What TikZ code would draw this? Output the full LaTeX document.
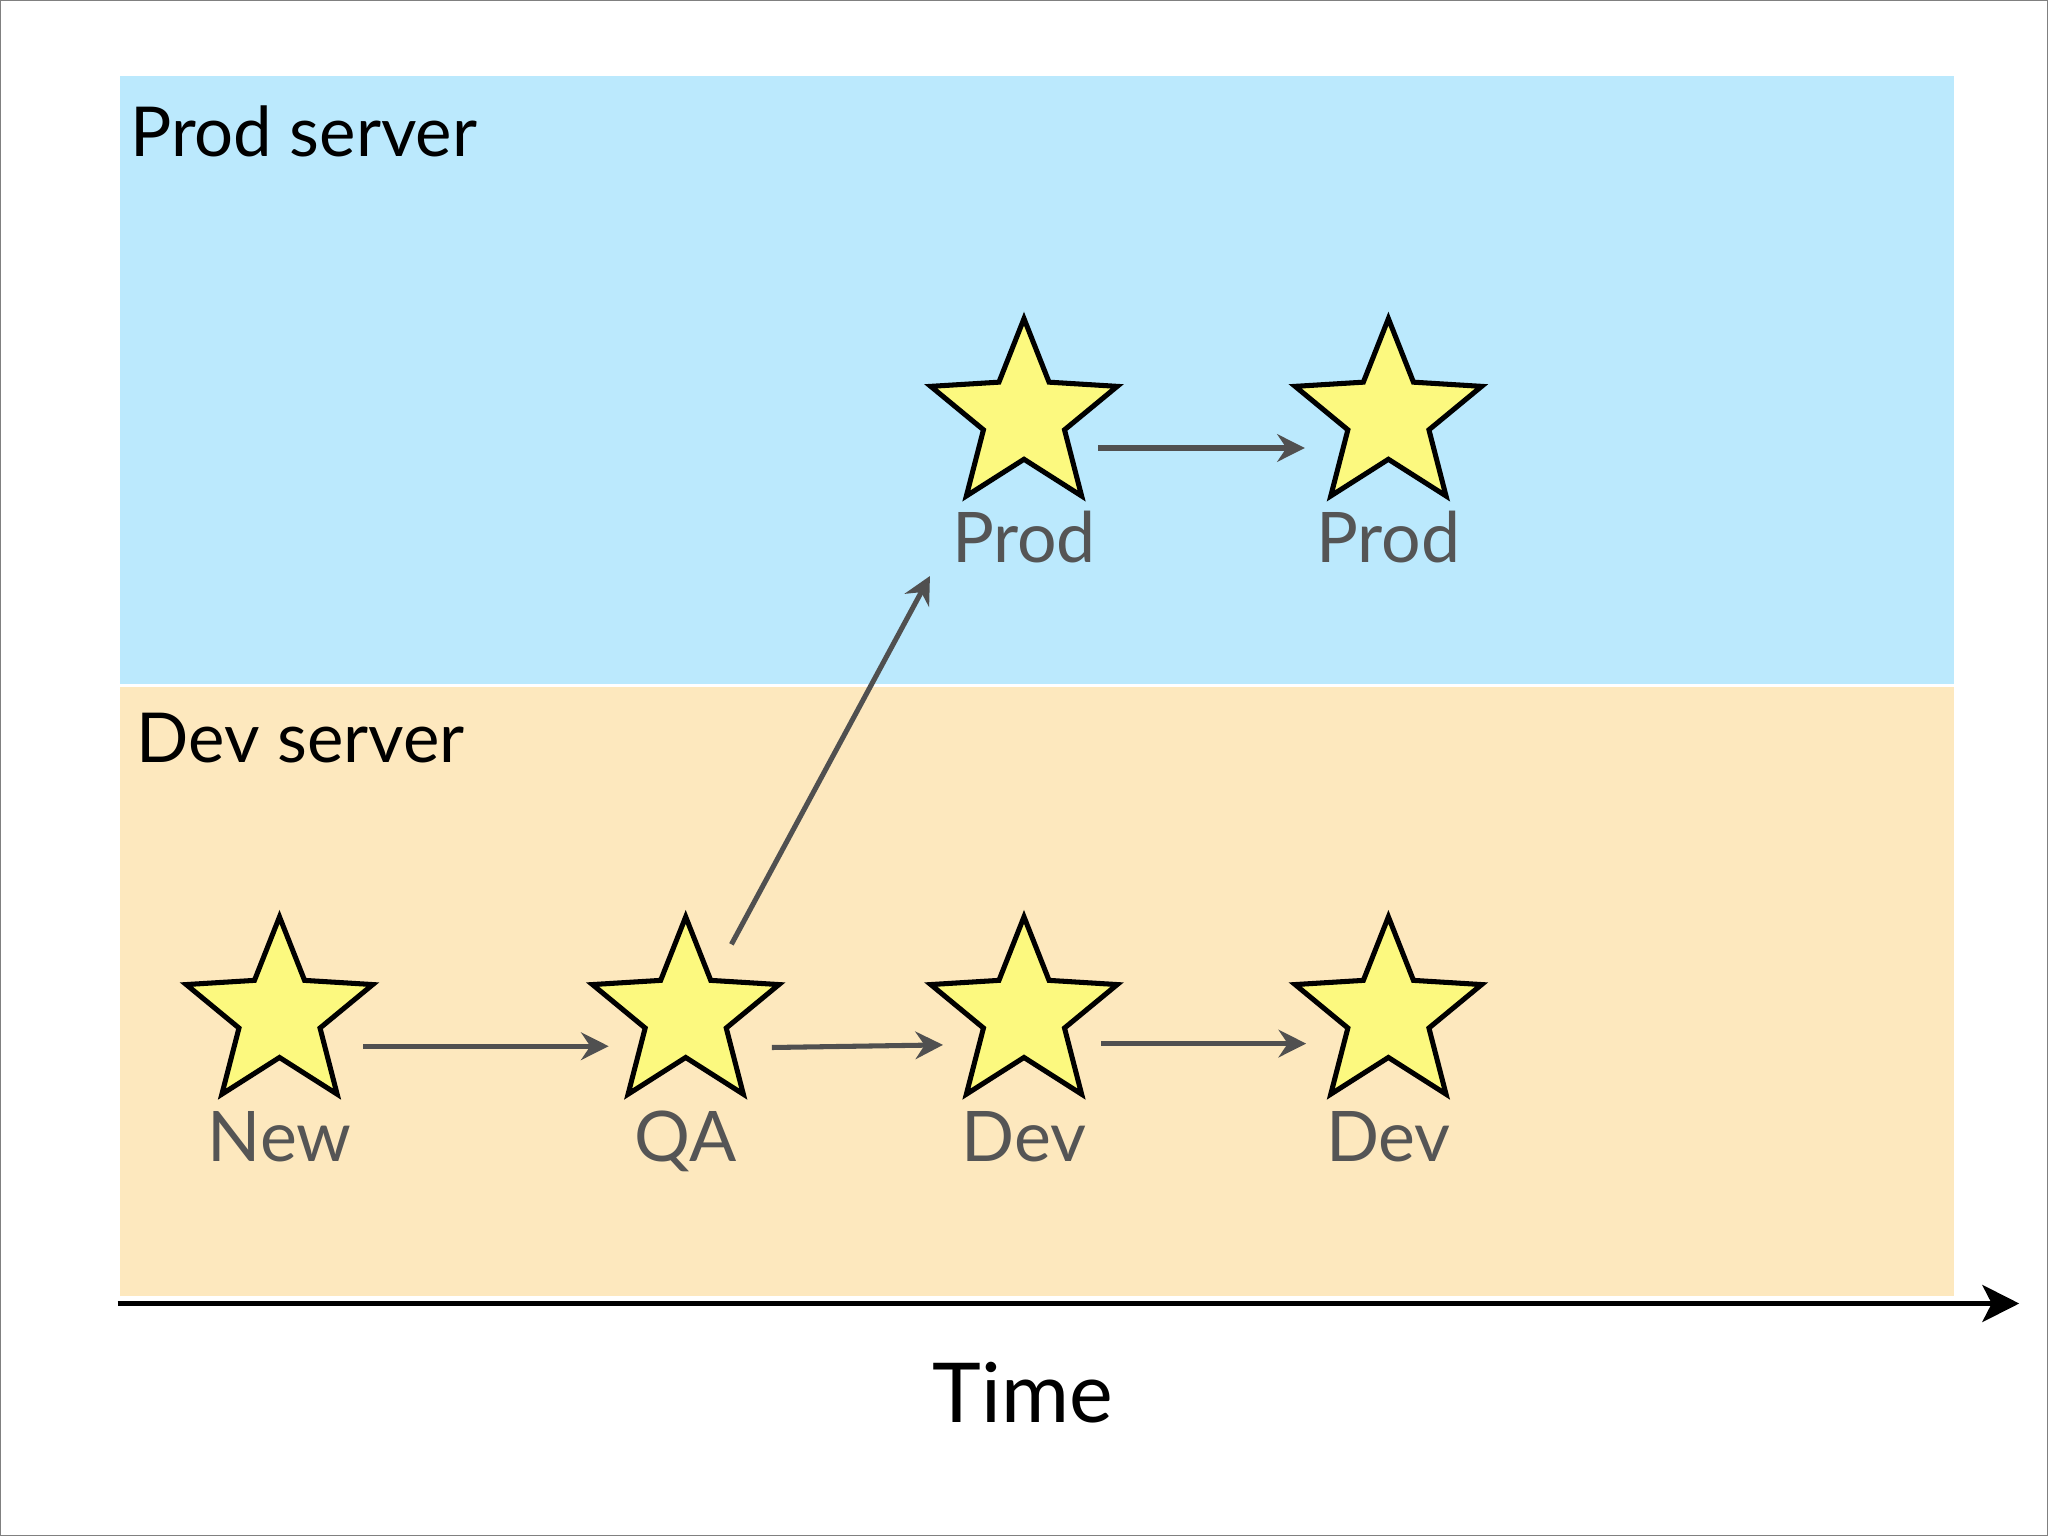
\documentclass[tikz,border=0pt]{standalone}
\usepackage{fontspec}
\setmainfont{Lato}
\usetikzlibrary{shapes.geometric,arrows.meta}
\definecolor{prodbg}{HTML}{BBE9FD}
\definecolor{devbg}{HTML}{FDE8BE}
\definecolor{starfill}{HTML}{FCF97F}
\definecolor{arr}{HTML}{505050}
\definecolor{lbl}{HTML}{555555}
\begin{document}
\begin{tikzpicture}[x=0.01cm,y=-0.01cm,
  st/.style={star,star points=5,star point ratio=2.3,minimum size=1.5cm,inner sep=0pt,fill=starfill,draw=black,line width=1.1pt},
  lab/.style={text=lbl,font=\fontsize{15.2}{18}\selectfont},
  ar/.style={draw=arr,line width=1.1pt,-{Stealth[length=6pt,width=6pt,inset=2pt]}},
  zone/.style={font=\fontsize{15}{18}\selectfont,anchor=base west}]
\useasboundingbox (0,0) rectangle (1568,1176);
\draw[gray,line width=0.5pt] (0,0) rectangle (1568,1176);
\fill[prodbg] (92,58) rectangle (1496,524);
\fill[devbg] (92,526) rectangle (1496,992);
\node[zone,inner sep=0pt] (prodz) at (99,120) {Prod server};
\node[zone,inner sep=0pt] (devz) at (104,584) {Dev server};
\node[st] (s1) at (214,777) {};
\node[st] (s2) at (525,777) {};
\node[st] (s3) at (784,777) {};
\node[st] (s4) at (1063,777) {};
\node[st] (p1) at (784,319) {};
\node[st] (p2) at (1063,319) {};
\node[lab,anchor=base] (l1) at (214,889) {New};
\node[lab,anchor=base] (l2) at (525,889) {QA};
\node[lab,anchor=base] (l3) at (784,889) {Dev};
\node[lab,anchor=base] (l4) at (1063,889) {Dev};
\node[lab,anchor=base] (l5) at (784,431) {Prod};
\node[lab,anchor=base] (l6) at (1063,431) {Prod};
\coordinate (a1) at (278,801); \coordinate (b1) at (466,801);
\coordinate (a2) at (591,802); \coordinate (b2) at (722,800);
\coordinate (a3) at (843,799); \coordinate (b3) at (1000,799);
\coordinate (a4) at (560,723); \coordinate (b4) at (712,441);
\coordinate (a5) at (841,343); \coordinate (b5) at (999,343);
\draw[ar] (a1) -- (b1);
\draw[ar] (a2) -- (b2);
\draw[ar] (a3) -- (b3);
\draw[ar] (a4) -- (b4);
\draw[ar] (a5) -- (b5);
\coordinate (t0) at (90,998); \coordinate (t1) at (1546,998);
\draw[line width=1.3pt,-{Stealth[length=8pt,width=8pt,inset=2pt]}] (t0) -- (t1);
\node[font=\fontsize{18}{22}\selectfont,anchor=base] (time) at (783,1089) {Time};
\end{tikzpicture}
\end{document}
